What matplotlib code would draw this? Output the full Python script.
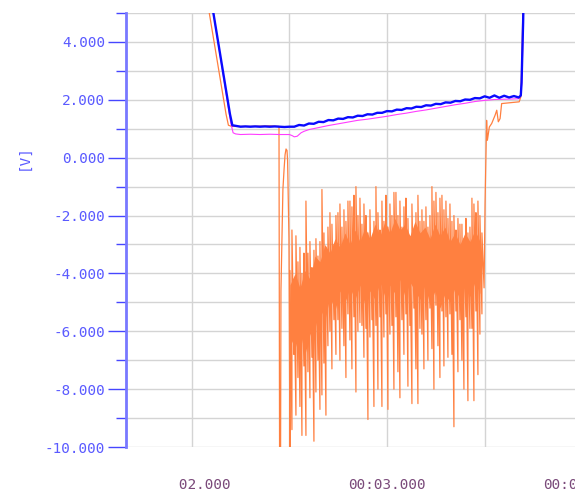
import numpy as np
import matplotlib
matplotlib.use("Agg")
import matplotlib.pyplot as plt
from matplotlib.ticker import FixedLocator, FormatStrFormatter
from matplotlib.transforms import blended_transform_factory, Bbox

# time axis in seconds, values in volts
x_ticks = [2.0, 3.0, 4.0]
x_labels = ["   02.000", "00:03.000", "00:04.000"]
x_grid = [2.0, 2.5, 3.0, 3.5]
y_major = [-10, -8, -6, -4, -2, 0, 2, 4]
y_minor = [-9, -7, -5, -3, -1, 1, 3, 5]

# blue trace
blue_head_t = [2.068, 2.111, 2.196, 2.208]
blue_head_v = [6.7, 5.0, 1.5, 1.12]
blue_t0 = 2.225
blue_dt = 0.025
blue_v = [1.10, 1.07, 1.08, 1.07, 1.08, 1.07, 1.08, 1.07, 1.08, 1.07,
          1.06, 1.07, 1.07, 1.13, 1.11, 1.18, 1.17, 1.24, 1.23, 1.30,
          1.29, 1.35, 1.34, 1.40, 1.39, 1.45, 1.44, 1.50, 1.49, 1.55,
          1.55, 1.61, 1.60, 1.66, 1.65, 1.71, 1.70, 1.76, 1.75, 1.81,
          1.80, 1.86, 1.85, 1.91, 1.90, 1.96, 1.95, 2.01, 2.00, 2.06,
          2.05, 2.12, 2.07, 2.15, 2.07, 2.14, 2.08, 2.13, 2.08]
blue_tail_t = [3.685, 3.689, 3.692, 3.697, 3.702]
blue_tail_v = [2.15, 2.6, 3.4, 4.7, 6.5]

# magenta trace
pink_t = [2.068, 2.111, 2.200, 2.212, 2.225, 2.250, 2.300, 2.350, 2.400,
          2.450, 2.500, 2.515, 2.525, 2.540, 2.560, 2.575, 2.600, 2.650,
          2.700, 2.750, 2.800, 2.850, 2.900, 2.950, 3.000, 3.050, 3.100,
          3.150, 3.200, 3.250, 3.300, 3.350, 3.400, 3.450, 3.500, 3.550,
          3.600, 3.650, 3.675, 3.685, 3.690, 3.695, 3.702]
pink_v = [6.7, 5.0, 1.2, 0.86, 0.82, 0.80, 0.81, 0.80, 0.81,
          0.80, 0.80, 0.76, 0.72, 0.74, 0.86, 0.91, 0.97, 1.04,
          1.11, 1.17, 1.23, 1.29, 1.33, 1.38, 1.43, 1.49, 1.54,
          1.60, 1.65, 1.71, 1.77, 1.83, 1.88, 1.94, 1.98, 2.01,
          2.02, 2.03, 2.04, 2.16, 2.56, 3.8, 6.5]

# orange trace: before the noisy part
orange_head_t = [2.042, 2.090, 2.176, 2.188, 2.206, 2.299, 2.401, 2.447,
                 2.450, 2.455, 2.457, 2.462, 2.467, 2.473, 2.478, 2.483,
                 2.488, 2.491, 2.493, 2.498]
orange_head_v = [6.9, 5.0, 1.5, 1.12, 1.08, 1.08, 1.10, 1.08,
                 -10.5, -10.5, -4.6, -2.8, -1.1, -0.4, 0.1, 0.3,
                 0.25, -0.1, -0.9, -2.8]

# orange trace: noisy part, upper and lower swing of every sample
noise_t0 = 2.503
noise_dt = 0.01024
noise_hi = [-3.9, -2.5, -4.2,
            -2.7, -3.6, -3.1, -4.0, -3.3,
            -1.5, -3.3, -2.9, -3.8,
            -3.2, -2.8, -3.4, -2.9,
            -1.1, -2.6, -3.1, -2.4,
            -1.9, -2.3, -3.0, -2.0,
            -1.9, -1.6, -2.4, -1.8, -2.2, -1.5,
            -1.5, -1.7, -1.3, -1.0, -2.0, -1.4, -2.3, -1.6,
            -2.0, -2.6, -1.8, -2.9, -2.2,
            -1.0, -1.9, -2.5, -1.5, -2.2,
            -1.3, -2.4, -1.6, -2.0, -1.2,
            -1.2, -2.0, -1.5, -2.4, -1.7,
            -1.4, -2.1, -3.0, -1.6, -2.5, -1.9, -1.3, -2.2,
            -1.8, -2.2, -1.7, -2.4, -2.0,
            -1.0, -1.5, -1.2, -1.9, -1.4,
            -1.3, -1.8, -1.5, -2.1, -1.6,
            -2.2, -2.0, -2.5, -2.1, -2.3,
            -2.3, -2.8, -2.1, -2.6, -2.4,
            -1.4, -1.6, -1.9, -1.5, -2.0, -2.6]
noise_lo = [-10.2, -9.4, -6.8,
            -8.9, -7.6, -8.6, -9.6, -7.2,
            -9.6, -7.4, -8.3, -6.9,
            -9.8, -8.1, -7.0, -8.7,
            -8.2, -7.1, -8.9, -6.5,
            -6.0, -7.3, -5.6, -6.8,
            -5.6, -7.0, -5.9, -6.5, -7.6, -5.4,
            -6.3, -7.3, -5.5, -8.1, -6.0, -5.7, -5.8, -6.9,
            -5.9, -9.05, -6.2, -5.6, -8.6,
            -5.8, -8.0, -5.5, -8.6, -6.2,
            -5.4, -8.7, -6.1, -5.8, -8.0,
            -5.5, -7.4, -8.3, -5.6, -6.8,
            -5.4, -7.9, -5.8, -8.5, -5.2, -7.3, -8.5, -5.9,
            -6.1, -7.3, -5.6, -7.0, -5.2,
            -6.6, -8.0, -5.1, -6.5, -7.6,
            -5.3, -7.2, -5.5, -6.9, -5.4,
            -6.8, -9.3, -5.3, -7.4, -5.6,
            -7.0, -8.0, -5.5, -8.4, -5.9,
            -5.9, -8.4, -5.3, -7.5, -6.1, -5.4]

# dense middle band of the noisy part
core_t0 = 2.503
core_dt = 0.0256
core_top = [-4.4, -4.0, -4.5, -3.9, -4.2, -3.4, -3.6, -3.0, -3.3, -2.8,
            -3.1, -2.6, -3.0, -2.5, -2.9, -2.4, -2.8, -2.3, -2.7, -2.2,
            -2.6, -2.1, -2.5, -2.3, -2.7, -2.2, -2.6, -2.4, -2.8, -2.3,
            -2.7, -2.4, -2.9, -2.6, -3.0, -2.6, -2.9, -2.5, -2.9]
core_bot = [-6.2, -6.6, -6.0, -6.8, -6.1, -5.9, -5.2, -5.6, -4.8, -5.3,
            -4.6, -5.0, -4.5, -4.9, -4.4, -5.1, -4.6, -4.9, -4.3, -4.8,
            -4.4, -4.7, -4.2, -4.8, -4.3, -4.6, -4.9, -4.4, -5.1, -4.6,
            -5.2, -4.7, -5.0, -4.5, -4.9, -4.4, -4.8, -4.3, -4.7]

# orange trace: after the noisy part
orange_tail_t = [3.497, 3.502, 3.504, 3.510, 3.514, 3.524, 3.536, 3.553,
                 3.562, 3.570, 3.579, 3.587, 3.630, 3.677, 3.685, 3.689,
                 3.694, 3.702]
orange_tail_v = [-4.5, -1.6, -0.9, 1.29, 0.60, 1.06, 1.18, 1.46,
                 1.64, 1.24, 1.35, 1.87, 1.90, 1.93, 2.1, 3.0,
                 4.5, 7.0]


def build_orange():
    """Join the three parts of the orange trace into one line."""
    t_noise = noise_t0 + np.arange(len(noise_hi)) * noise_dt
    tz = np.repeat(t_noise, 2)
    vz = np.empty(2 * len(t_noise))
    vz[0::2] = noise_lo
    vz[1::2] = noise_hi
    t = np.concatenate([orange_head_t, tz, orange_tail_t])
    v = np.concatenate([orange_head_v, vz, orange_tail_v])
    return t, v


def build_blue():
    """Join head, sampled middle and tail of the blue trace."""
    t_mid = blue_t0 + np.arange(len(blue_v)) * blue_dt
    t = np.concatenate([blue_head_t, t_mid, blue_tail_t])
    v = np.concatenate([blue_head_v, blue_v, blue_tail_v])
    return t, v


def main():
    plt.rcParams['axes.unicode_minus'] = False
    mono = "DejaVu Sans Mono"
    orange = "#ff8040"

    fig = plt.figure(figsize=(5.86, 4.92), dpi=100)
    ax = fig.add_axes([126 / 586, 45 / 492, 449 / 586, 434 / 492])

    ot, ov = build_orange()
    bt, bv = build_blue()
    core_t = core_t0 + np.arange(len(core_top)) * core_dt
    ax.fill_between(core_t, core_bot, core_top, color=orange,
                    linewidth=0, zorder=2.5)
    ax.plot(ot, ov, color=orange, linewidth=0.9, zorder=3)
    ax.plot(pink_t, pink_v, color="#ff3cff", linewidth=0.8, zorder=4)
    ax.plot(bt, bv, color="#0a0aff", linewidth=1.7, zorder=5)

    ax.set_xlim(1.6636, 3.9626)
    ax.set_ylim(-10, 5)

    # grid and ticks
    ax.xaxis.set_major_locator(FixedLocator(x_grid))
    ax.yaxis.set_major_locator(FixedLocator(y_major))
    ax.yaxis.set_minor_locator(FixedLocator(y_minor))
    ax.yaxis.set_major_formatter(FormatStrFormatter("%.3f"))
    ax.set_axisbelow(True)
    ax.grid(True, which="both", color="#d4d4d4", linewidth=1.0)
    ax.tick_params(axis="x", length=0, labelbottom=False)
    ax.tick_params(axis="y", which="major", length=13, width=1,
                   color="#4646ff", labelcolor="#5a5aff", pad=2,
                   labelsize=10.4)
    ax.tick_params(axis="y", which="minor", length=7, width=1,
                   color="#4646ff")
    for lbl in ax.get_yticklabels():
        lbl.set_fontfamily(mono)

    for side in ("top", "right", "bottom"):
        ax.spines[side].set_visible(False)
    ax.spines["left"].set_color("#7878ff")
    ax.spines["left"].set_linewidth(2)

    # time labels under the axis, cut at the right end of the plot area
    trans = blended_transform_factory(ax.transData, ax.transAxes)
    clip = Bbox.from_extents(0, 0, 575, 492)
    for xt, txt in zip(x_ticks, x_labels):
        t = ax.text(xt, -0.088, txt, transform=trans, ha="center",
                    va="center", fontsize=10.4, family=mono,
                    color="#7a4a7a")
        t.set_clip_box(clip)
        t.set_clip_on(True)

    fig.text(23.5 / 586, 1 - 157 / 492, "[V]", rotation=90, ha="center",
             va="center", fontsize=10.4, family=mono, color="#5a5aff")

    fig.savefig("out.png", dpi=100)


if __name__ == "__main__":
    main()
